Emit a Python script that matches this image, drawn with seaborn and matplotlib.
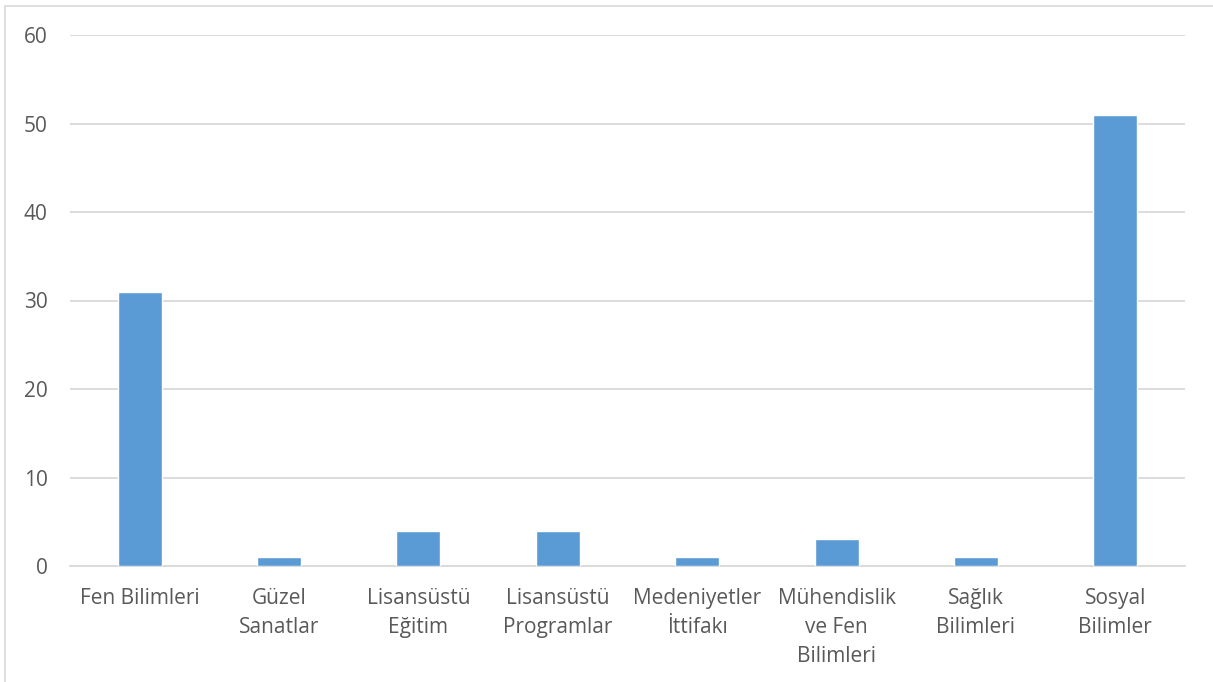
import seaborn as sns
import matplotlib.pyplot as plt
from matplotlib.patches import Rectangle

# data
categories = ["Fen Bilimleri", "Güzel\nSanatlar", "Lisansüstü\nEğitim", "Lisansüstü\nProgramlar",
              "Medeniyetler\nİttifakı", "Mühendislik\nve Fen\nBilimleri", "Sağlık\nBilimleri", "Sosyal\nBilimler"]
values = [31, 1, 4, 4, 1, 3, 1, 51]
yticks = [0, 10, 20, 30, 40, 50, 60]

sns.set_style("white")
plt.rcParams['font.family'] = ['Open Sans', 'DejaVu Sans']

fig = plt.figure(figsize=(12.13, 6.82), dpi=100)
ax = fig.add_axes([70/1213, 1 - 566/682, 1115/1213, 531/682])

sns.barplot(x=list(range(len(values))), y=values, color="#5B9BD5", width=0.316,
            saturation=1, ax=ax, zorder=3)

ax.set_xlim(-0.5, len(values) - 0.5)
ax.set_ylim(0, 60)
ax.set_yticks(yticks)
ax.set_xticks(range(len(categories)))
ax.set_xticklabels(categories, linespacing=1.48)
ax.grid(axis="y", color="#D9D9D9", linewidth=1.3, zorder=0)
for s in ["top", "right", "left"]:
    ax.spines[s].set_visible(False)
ax.spines["bottom"].set_color("#D9D9D9")
ax.spines["bottom"].set_linewidth(1.3)
ax.tick_params(axis="both", length=0, labelsize=15, colors="#595959")
ax.tick_params(axis="x", pad=16)
ax.tick_params(axis="y", pad=16)
ax.set_xlabel("")
ax.set_ylabel("")

# chart border (only left/top visible)
fig.patches.append(Rectangle((5/1213, -0.1), 1.2, 1 - 6/682 + 0.1, transform=fig.transFigure,
                             fill=False, edgecolor="#D9D9D9", linewidth=1.2))

fig.savefig("out.png", dpi=100)
